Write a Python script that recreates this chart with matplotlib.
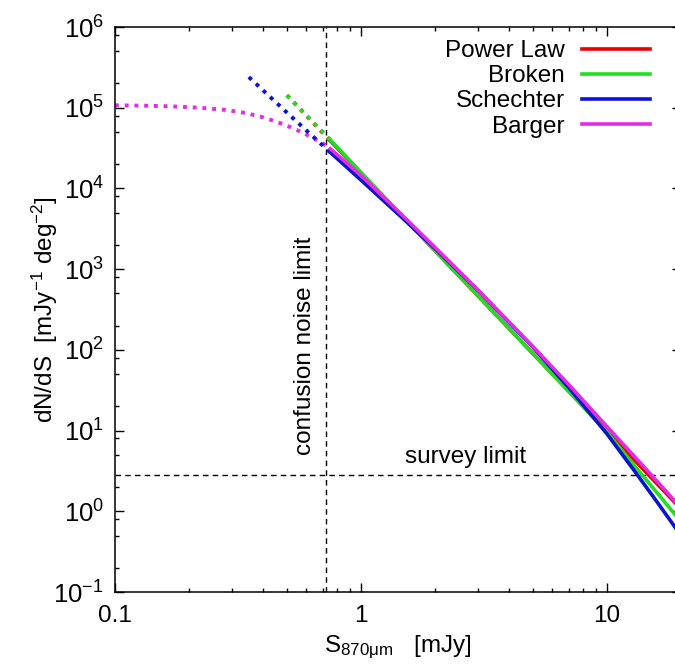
import matplotlib
matplotlib.use("Agg")
import matplotlib.pyplot as plt
from matplotlib.ticker import LogLocator, NullFormatter

# model curves (S in mJy, dN/dS in mJy^-1 deg^-2)
power_x = [0.75, 1, 2, 5, 10, 20]
power_y = [3.9e4, 1.55e4, 1.69e3, 90, 9.8, 1.07]
power_faint_x = [0.5, 0.75]
power_faint_y = [1.43e5, 3.9e4]

broken_x = [0.75, 1, 2, 5, 10, 13, 16, 20]
broken_y = [4.0e4, 1.58e4, 1.7e3, 90, 9.6, 3.6, 1.69, 0.74]
broken_faint_x = [0.5, 0.75]
broken_faint_y = [1.42e5, 4.0e4]

schechter_x = [0.75, 1, 1.5, 2, 3, 5, 7, 10, 13, 16, 20]
schechter_y = [2.8e4, 1.27e4, 4.1e3, 1.8e3, 540, 108, 34, 9.1, 3.1, 1.3, 0.5]
schechter_faint_x = [0.35, 0.5, 0.75]
schechter_faint_y = [2.4e5, 8.7e4, 2.8e4]

barger_x = [0.75, 1, 1.5, 2, 3, 5, 7, 10, 13, 16, 20]
barger_y = [3.1e4, 1.45e4, 4.4e3, 1.86e3, 545, 110, 37, 11.2, 4.7, 2.35, 1.1]
barger_faint_x = [0.1, 0.13, 0.17, 0.22, 0.28, 0.34, 0.40, 0.46, 0.52, 0.58, 0.64, 0.70, 0.75]
barger_faint_y = [1.07e5, 1.06e5, 1.04e5, 1.0e5, 9.4e4, 8.6e4, 7.6e4, 6.6e4, 5.7e4, 4.9e4, 4.2e4, 3.6e4, 3.1e4]

confusion_limit = 0.72
survey_limit = 2.8

x_ticks = [0.1, 1, 10]
x_tick_labels = ["0.1", "1", "10"]
y_ticks = [1e-1, 1e0, 1e1, 1e2, 1e3, 1e4, 1e5, 1e6]

RED, GREEN, BLUE, MAGENTA = "#e80000", "#22dd22", "#0a14d0", "#e22ee2"
FS = 17.5

plt.rcParams['font.family'] = ['Liberation Sans', 'DejaVu Sans']
plt.rcParams['mathtext.fontset'] = 'custom'
plt.rcParams['mathtext.rm'] = 'Liberation Sans'
plt.rcParams['mathtext.it'] = 'Liberation Sans:italic'
plt.rcParams['mathtext.bf'] = 'Liberation Sans:bold'
plt.rcParams['axes.unicode_minus'] = False

fig = plt.figure(figsize=(6.75, 6.71), dpi=100)
ax = fig.add_axes([115 / 675, 79 / 671, 566 / 675, 565 / 671])

# limits
ax.axvline(confusion_limit, color="black", lw=1.0, dashes=(4, 3))
ax.axhline(survey_limit, color="black", lw=1.0, dashes=(4, 3))

# faint-end extrapolations (dotted)
dot = dict(lw=2.8, linestyle=(0, (1, 1.5)), dash_capstyle="butt")
ax.plot(barger_faint_x, barger_faint_y, color=MAGENTA, **dot)
ax.plot(schechter_faint_x, schechter_faint_y, color=BLUE, **dot)
ax.plot(power_faint_x, power_faint_y, color=RED, **dot)
ax.plot(broken_faint_x, broken_faint_y, color=GREEN, **dot)

# fitted range (solid)
ax.plot(power_x, power_y, color=RED, lw=2.6, label="Power Law")
ax.plot(broken_x, broken_y, color=GREEN, lw=2.6, label="Broken")
ax.plot(schechter_x, schechter_y, color=BLUE, lw=2.6, label="Schechter")
ax.plot(barger_x, barger_y, color=MAGENTA, lw=2.6, label="Barger")

ax.set_xscale("log")
ax.set_yscale("log")
ax.set_xlim(0.1, 20)
ax.set_ylim(0.1, 1e6)

ax.set_yticks(y_ticks)
ax.yaxis.set_minor_locator(LogLocator(base=10, subs=(2, 5, 8), numticks=20))
ax.yaxis.set_minor_formatter(NullFormatter())
ax.set_xticks(x_ticks, labels=x_tick_labels)
ax.xaxis.set_minor_locator(LogLocator(base=10, subs=range(2, 10), numticks=20))
ax.xaxis.set_minor_formatter(NullFormatter())

ax.tick_params(which="both", direction="in", top=True, right=True,
               labelsize=FS, width=1.0)
ax.tick_params(which="major", length=6.5, pad=9)
ax.tick_params(which="minor", length=3)
ax.tick_params(axis="y", which="major", labelsize=18.5, pad=8)
for s in ax.spines.values():
    s.set_linewidth(1.1)

ax.set_xlabel("S$_{\\mathregular{870μm}}$   [mJy]", fontsize=FS)
ax.set_ylabel("dN/dS  [mJy$^{\\mathregular{-1}}$ deg$^{\\mathregular{-2}}$]",
              fontsize=FS)
ax.xaxis.set_label_coords(0.5, -0.074)
ax.yaxis.set_label_coords(-0.097, 0.5)

ax.text(0.59, 5.0, "confusion noise limit", rotation=90, ha="center",
        va="bottom", fontsize=FS)
ax.text(2.67, 3.95, "survey limit", ha="center", va="baseline", fontsize=FS)

ax.legend(loc="upper right", bbox_to_anchor=(650 / 675, (671 - 40) / 671),
          bbox_transform=fig.transFigure, frameon=False, markerfirst=False,
          handlelength=2.8, handletextpad=0.7, labelspacing=0.13,
          borderpad=0, borderaxespad=0, fontsize=FS)

fig.savefig("out.png", dpi=100)
